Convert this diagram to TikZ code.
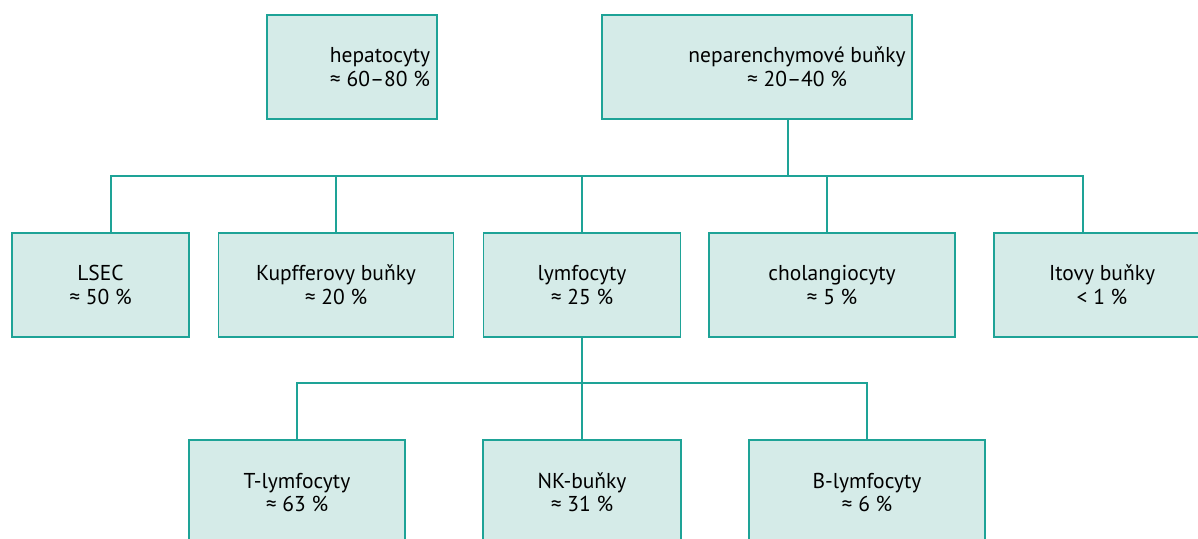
\documentclass[tikz,border=0pt]{standalone}
\usepackage{fontspec}
\setmainfont{PT Sans}
\usetikzlibrary{calc}

\definecolor{cellline}{RGB}{30,163,151}
\definecolor{cellfill}{RGB}{213,235,232}

\tikzstyle{cellbox} = [rectangle,
minimum height=104,
inner sep=0pt,
align=center,
line width=1.8pt,
draw=cellline,
fill=cellfill,
font=\fontsize{21.5}{23.5}\selectfont]
\tikzstyle{celltext} = [align=center,
inner sep=0pt,
font=\fontsize{21.5}{23.5}\selectfont]
\tikzstyle{link} = [line width=1.8pt, draw=cellline]

\begin{document}
\begin{tikzpicture}[x=1pt, y=-1pt]
\useasboundingbox (0,0) rectangle (1198,538);

% top row
\node (hep) [cellbox, minimum width=170] at (352,67) {};
\node (heptext) [celltext] at ([xshift=28pt]hep.center) {hepatocyty\\≈ 60–80 \%};
\node (nepar) [cellbox, minimum width=310] at (757,67) {};
\node (nepartext) [celltext] at ([xshift=40pt]nepar.center) {neparenchymové buňky\\≈ 20–40 \%};

% middle row
\node (lsec) [cellbox, minimum width=177] at (100.5,285) {LSEC\\≈ 50 \%};
\node (kupf) [cellbox, minimum width=235] at (336,285) {Kupfferovy buňky\\≈ 20 \%};
\node (lymf) [cellbox, minimum width=197] at (582,285) {lymfocyty\\≈ 25 \%};
\node (chol) [cellbox, minimum width=246] at (832,285) {cholangiocyty\\≈ 5 \%};
\node (itovy) [cellbox, minimum width=216] at (1102,285) {Itovy buňky\\< 1 \%};

% bottom row
\node (tlym) [cellbox, minimum width=216, minimum height=105] at (297,492.5) {T-lymfocyty\\≈ 63 \%};
\node (nk) [cellbox, minimum width=198, minimum height=105] at (582,492.5) {NK-buňky\\≈ 31 \%};
\node (blym) [cellbox, minimum width=236, minimum height=105] at (867,492.5) {B-lymfocyty\\≈ 6 \%};

% connectors
\coordinate (hub1) at (788,176);
\coordinate (hub2) at (582,383);
\draw [link] (nepar.south -| hub1) -- (hub1);
\draw [link] ([xshift=10.5pt]lsec.north) |- (hub1);
\draw [link] ([xshift=-19pt]itovy.north) |- (hub1);
\draw [link] (kupf.north) -- (kupf.north |- hub1);
\draw [link] (lymf.north) -- (lymf.north |- hub1);
\draw [link] ([xshift=-5pt]chol.north) -- ([xshift=-5pt]chol.north |- hub1);

\draw [link] (lymf.south) -- (nk.north);
\draw [link] (tlym.north) |- (hub2);
\draw [link] (blym.north) |- (hub2);

\end{tikzpicture}
\end{document}
